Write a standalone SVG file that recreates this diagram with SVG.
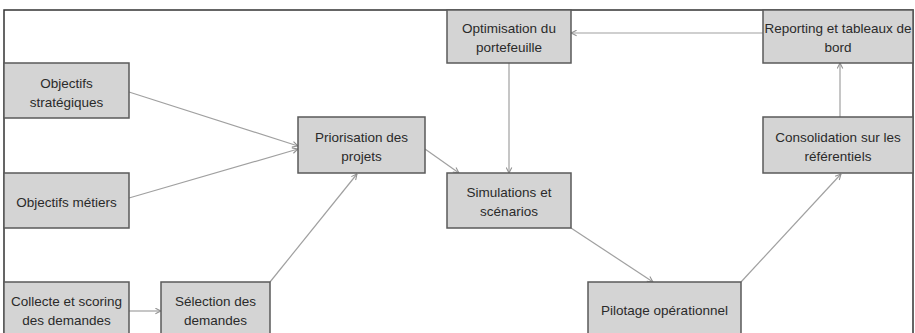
<svg xmlns="http://www.w3.org/2000/svg" width="915" height="333" viewBox="0 0 915 333">
<defs>
<style>
.box{fill:#d4d4d4;stroke:#5a5a5a;stroke-width:1.5}
.t{font-family:"Liberation Sans",Arial,sans-serif;font-size:13.5px;fill:#2a2a2a;text-anchor:middle}
.c{stroke:#a0a0a0;stroke-width:1.2;fill:none;marker-end:url(#ah)}
</style>
<marker id="ah" viewBox="0 0 10 10" refX="9" refY="5" markerWidth="7" markerHeight="7" orient="auto" markerUnits="userSpaceOnUse">
<path d="M1,1 L9,5 L1,9" fill="none" stroke="#909090" stroke-width="1.5"/>
</marker>
</defs>
<rect width="915" height="333" fill="#fff"/>
<path d="M4,333 V10 H913 V333" fill="none" stroke="#333" stroke-width="1.5"/>
<g id="connectors">
<line class="c" x1="129" y1="92" x2="298" y2="146"/>
<line class="c" x1="129" y1="198" x2="298" y2="149"/>
<line class="c" x1="129" y1="311" x2="161" y2="311"/>
<line class="c" x1="270" y1="282" x2="357" y2="174"/>
<line class="c" x1="425" y1="149" x2="459" y2="173"/>
<line class="c" x1="509" y1="63" x2="509" y2="173"/>
<line class="c" x1="763" y1="33" x2="571" y2="33"/>
<line class="c" x1="840" y1="117" x2="840" y2="63"/>
<line class="c" x1="571" y1="228" x2="653" y2="282"/>
<line class="c" x1="741" y1="282" x2="841" y2="174"/>
</g>
<g id="n-obj-strat"><rect class="box" x="4" y="63" width="125" height="55"/><text class="t" x="66.5" y="88">Objectifs</text><text class="t" x="66.5" y="107">stratégiques</text></g>
<g id="n-obj-metiers"><rect class="box" x="4" y="173" width="125" height="55"/><text class="t" x="66.5" y="207">Objectifs métiers</text></g>
<g id="n-collecte"><rect class="box" x="4" y="282" width="125" height="60"/><text class="t" x="66.5" y="306">Collecte et scoring</text><text class="t" x="66.5" y="325">des demandes</text></g>
<g id="n-selection"><rect class="box" x="161" y="282" width="109" height="60"/><text class="t" x="215.5" y="306">Sélection des</text><text class="t" x="215.5" y="325">demandes</text></g>
<g id="n-priorisation"><rect class="box" x="298" y="117" width="127" height="56"/><text class="t" x="361.5" y="142">Priorisation des</text><text class="t" x="361.5" y="161">projets</text></g>
<g id="n-optimisation"><rect class="box" x="447" y="10" width="124" height="53"/><text class="t" x="509" y="33">Optimisation du</text><text class="t" x="509" y="52">portefeuille</text></g>
<g id="n-simulations"><rect class="box" x="447" y="173" width="124" height="55"/><text class="t" x="509" y="197">Simulations et</text><text class="t" x="509" y="216">scénarios</text></g>
<g id="n-pilotage"><rect class="box" x="588" y="282" width="153" height="60"/><text class="t" x="664.5" y="315">Pilotage opérationnel</text></g>
<g id="n-reporting"><rect class="box" x="763" y="10" width="150" height="53"/><text class="t" x="838" y="33">Reporting et tableaux de</text><text class="t" x="838" y="52">bord</text></g>
<g id="n-consolidation"><rect class="box" x="763" y="117" width="150" height="56"/><text class="t" x="838" y="142">Consolidation sur les</text><text class="t" x="838" y="161">référentiels</text></g>
</svg>
